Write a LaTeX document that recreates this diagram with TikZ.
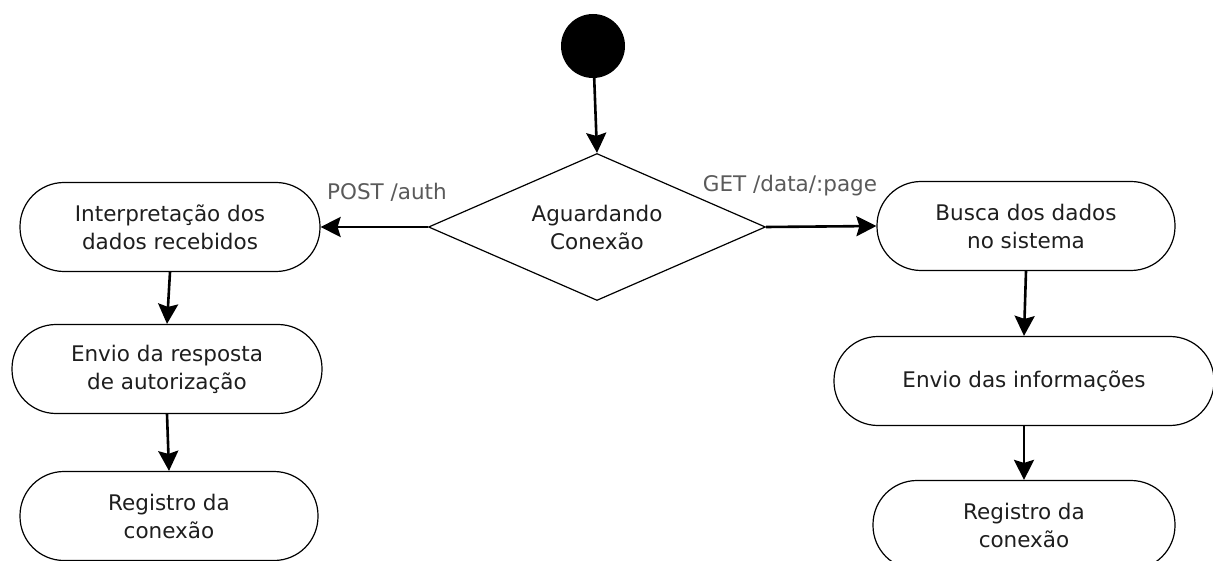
\documentclass[tikz,border=0pt]{standalone}
\usepackage{fontspec}
\setmainfont{DejaVu Sans}
\usetikzlibrary{shapes.geometric,arrows.meta}
\definecolor{txt}{HTML}{1E1E1E}
\definecolor{lbl}{HTML}{5A5A5A}
\begin{document}
\begin{tikzpicture}[x=1pt,y=-1pt,
  nodetext/.style={align=center,text=txt,font=\fontsize{21.5}{28}\selectfont},
  stadium/.style={draw=black,line width=1.2pt,rectangle,rounded corners=44pt,
    minimum height=89pt,nodetext},
  decision/.style={draw=black,line width=1.2pt,diamond,minimum width=337pt,
    minimum height=147pt,inner sep=0pt},
  flow/.style={line width=2.6pt,-{Stealth[length=20pt,width=20pt,inset=3pt]}},
  edgelabel/.style={text=lbl,font=\fontsize{21.5}{24}\selectfont}]
\useasboundingbox (0,0) rectangle (1213,561);
\clip (0,0) rectangle (1213,561);

% start state and decision
\node[circle,fill=black,minimum size=64pt,inner sep=0pt] (start) at (593,46) {};
\node[decision] (wait) at (597,227) {};
\node[nodetext] (waittext) at (wait.center) {Aguardando\\Conexão};

% POST branch
\node[stadium,minimum width=300pt] (interp) at (170,227) {Interpretação dos\\dados recebidos};
\node[stadium,minimum width=310pt] (resp) at (167,369) {Envio da resposta\\de autorização};
\node[stadium,minimum width=298pt] (regl) at (169,516) {Registro da\\conexão};

% GET branch
\node[stadium,minimum width=298pt] (busca) at (1026,226) {Busca dos dados\\no sistema};
\node[stadium,minimum width=380pt] (info) at (1024,381) {Envio das informações};
\node[stadium,minimum width=302pt] (regr) at (1024,525) {Registro da\\conexão};

% connectors
\draw[flow] (start) -- (wait.north);
\draw[flow] (wait.west) -- (interp.east);
\draw[flow] (wait.east) -- (busca.west);
\draw[flow] (interp.south) -- (resp.north);
\draw[flow] (resp.south) -- (regl.north);
\draw[flow] (busca.south) -- (info.north);
\draw[flow] (info.south) -- (regr.north);

% transition labels
\node[edgelabel] (postlbl) at (387,192) {POST /auth};
\node[edgelabel] (getlbl) at (790,186) {GET /data/:page};
\end{tikzpicture}
\end{document}
